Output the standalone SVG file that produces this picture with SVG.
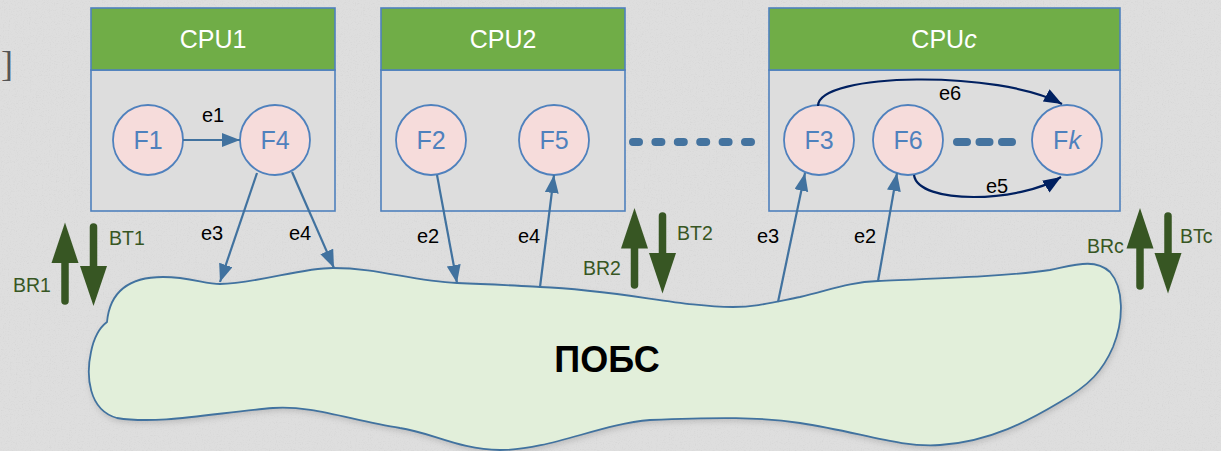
<svg xmlns="http://www.w3.org/2000/svg" width="1221" height="451" viewBox="0 0 1221 451">
  <style>
    .box-body { fill: #dddddd; stroke: #4f81bd; stroke-width: 1.6; }
    .box-head { fill: #70ad47; stroke: #4f81bd; stroke-width: 1.6; }
    .head-text { font-family: "Liberation Sans", Arial, sans-serif; font-size: 25px; fill: #ffffff; text-anchor: middle; }
    .fn { fill: #f6dcdb; stroke: #4f81bd; stroke-width: 1.8; }
    .fn-text { font-family: "Liberation Sans", Arial, sans-serif; font-size: 25px; fill: #4f81bd; text-anchor: middle; }
    .edge { fill: none; stroke: #41729f; stroke-width: 2.2; marker-end: url(#tip); }
    .loop { fill: none; stroke: #002060; stroke-width: 2.2; marker-end: url(#tip-navy); }
    .elabel { font-family: "Liberation Sans", Arial, sans-serif; font-size: 20px; fill: #000000; text-anchor: middle; }
    .blabel { font-family: "Liberation Sans", Arial, sans-serif; font-size: 19.5px; fill: #375623; }
    .bus { fill: #375623; }
    .bus-shaft { stroke: #375623; stroke-width: 7.5; stroke-linecap: round; fill: none; }
    .dots { fill: none; stroke: #44739f; stroke-width: 8; stroke-linecap: round; }
  </style>
  <defs>
    <filter id="grain" x="0" y="0" width="100%" height="100%">
      <feTurbulence type="fractalNoise" baseFrequency="0.85" numOctaves="2" seed="3" result="n"/>
      <feColorMatrix type="matrix" values="0 0 0 0 0.55  0 0 0 0 0.55  0 0 0 0 0.55  0.5 0.5 0 0 -0.5" />
    </filter>
    <filter id="soft" x="-10%" y="-10%" width="120%" height="130%">
      <feGaussianBlur stdDeviation="3"/>
    </filter>
    <marker id="tip" markerUnits="userSpaceOnUse" markerWidth="20" markerHeight="16" refX="18" refY="7" orient="auto">
      <path d="M0,0 L18,7 L0,14 Z" fill="#41729f"/>
    </marker>
    <marker id="tip-navy" markerUnits="userSpaceOnUse" markerWidth="20" markerHeight="16" refX="18" refY="7" orient="auto">
      <path d="M0,0 L18,7 L0,14 Z" fill="#002060"/>
    </marker>
  </defs>

  <!-- paper background -->
  <rect x="0" y="0" width="1221" height="451" fill="#dedede"/>
  <rect x="0" y="0" width="1221" height="451" filter="url(#grain)"/>

  <!-- bracket glyph at the left margin -->
  <text x="1" y="76" font-family="'Liberation Serif', serif" font-size="36" fill="#555555">]</text>

  <!-- shared network cloud -->
  <g id="network">
    <path d="M107,322 C110,290 130,277 163,277 C190,277 205,284 220,284 C260,283 300,268 333,268 C380,268 410,281 457,283 C490,284 520,286 540,287 C620,290 680,307 733,307 C755,307 770,303 800,297 C830,290 850,282 878,281 C950,278 1010,276 1050,270 C1075,265 1095,258 1110,272 C1124,288 1124,320 1113,347 C1103,370 1090,385 1060,402 C1030,420 990,442 940,445 C900,448 860,432 800,423 C760,417 720,417 650,420 C600,424 550,450 500,450 C460,450 430,432 400,428 C350,420 310,405 273,408 C220,412 160,425 117,418 C88,410 86,375 91,352 C94,337 99,328 107,322 Z" fill="#7a7a7a" opacity="0.35" filter="url(#soft)" transform="translate(1,3)"/>
    <path d="M107,322 C110,290 130,277 163,277 C190,277 205,284 220,284 C260,283 300,268 333,268 C380,268 410,281 457,283 C490,284 520,286 540,287 C620,290 680,307 733,307 C755,307 770,303 800,297 C830,290 850,282 878,281 C950,278 1010,276 1050,270 C1075,265 1095,258 1110,272 C1124,288 1124,320 1113,347 C1103,370 1090,385 1060,402 C1030,420 990,442 940,445 C900,448 860,432 800,423 C760,417 720,417 650,420 C600,424 550,450 500,450 C460,450 430,432 400,428 C350,420 310,405 273,408 C220,412 160,425 117,418 C88,410 86,375 91,352 C94,337 99,328 107,322 Z" fill="#e2efda" stroke="#41729f" stroke-width="1.8"/>
    <text x="607" y="372" font-family="'Liberation Sans', Arial, sans-serif" font-size="36" font-weight="bold" fill="#000000" text-anchor="middle">ПОБС</text>
  </g>

  <!-- processor 1 -->
  <g id="cpu1">
    <rect class="box-body" x="91" y="70" width="244" height="141"/>
    <rect class="box-head" x="91" y="8" width="244" height="62"/>
    <text class="head-text" x="213" y="48">CPU1</text>
  </g>
  <!-- processor 2 -->
  <g id="cpu2">
    <rect class="box-body" x="381" y="70" width="244" height="141"/>
    <rect class="box-head" x="381" y="8" width="244" height="62"/>
    <text class="head-text" x="503" y="48">CPU2</text>
  </g>
  <!-- processor c -->
  <g id="cpuc">
    <rect class="box-body" x="769" y="70" width="351" height="141"/>
    <rect class="box-head" x="769" y="8" width="351" height="62"/>
    <text class="head-text" x="944" y="48">CPU<tspan font-style="italic">c</tspan></text>
  </g>

  <!-- functions -->
  <g id="f1"><circle class="fn" cx="148" cy="140" r="35"/><text class="fn-text" x="148" y="149">F1</text></g>
  <g id="f4"><circle class="fn" cx="275" cy="140" r="35"/><text class="fn-text" x="275" y="149">F4</text></g>
  <g id="f2"><circle class="fn" cx="431" cy="140" r="35"/><text class="fn-text" x="431" y="149">F2</text></g>
  <g id="f5"><circle class="fn" cx="554" cy="140" r="35"/><text class="fn-text" x="554" y="149">F5</text></g>
  <g id="f3"><circle class="fn" cx="819" cy="140" r="35"/><text class="fn-text" x="819" y="149">F3</text></g>
  <g id="f6"><circle class="fn" cx="908" cy="140" r="35"/><text class="fn-text" x="908" y="149">F6</text></g>
  <g id="fk"><circle class="fn" cx="1067" cy="140" r="35"/><text class="fn-text" x="1067" y="149">F<tspan font-style="italic">k</tspan></text></g>

  <!-- ellipsis between processors and between functions -->
  <g id="ellipsis">
    <path class="dots" d="M633,142 L753,142" stroke-dasharray="6 16.4"/>
    <path class="dots" d="M957,142 L1013,142" stroke-dasharray="10 12.5"/>
  </g>

  <!-- bus arrows -->
  <g id="bus-1">
    <line class="bus-shaft" x1="65" y1="258" x2="65" y2="301"/>
    <polygon class="bus" points="51.5,263 65,222.5 78.5,263"/>
    <line class="bus-shaft" x1="93.5" y1="227" x2="93.5" y2="270"/>
    <polygon class="bus" points="80,266 107,266 93.5,306"/>
    <text class="blabel" x="109" y="245">BT1</text>
    <text class="blabel" x="13" y="292">BR1</text>
  </g>
  <g id="bus-2">
    <line class="bus-shaft" x1="634.5" y1="244" x2="634.5" y2="285"/>
    <polygon class="bus" points="621,248.5 634.5,208 648,248.5"/>
    <line class="bus-shaft" x1="662.5" y1="216" x2="662.5" y2="257"/>
    <polygon class="bus" points="649,253 676,253 662.5,293.5"/>
    <text class="blabel" x="677" y="240">BT2</text>
    <text class="blabel" x="583" y="275">BR2</text>
  </g>
  <g id="bus-c">
    <line class="bus-shaft" x1="1140" y1="244" x2="1140" y2="286"/>
    <polygon class="bus" points="1126.5,248.5 1140,208 1153.5,248.5"/>
    <line class="bus-shaft" x1="1168" y1="216" x2="1168" y2="257"/>
    <polygon class="bus" points="1154.5,253 1181.5,253 1168,293.5"/>
    <text class="blabel" x="1180" y="243">BTc</text>
    <text class="blabel" x="1087" y="253">BRc</text>
  </g>

  <!-- connectors -->
  <g id="connectors">
    <path class="edge" d="M183,140 L240,140"/>
    <path class="edge" d="M257,173 L220,282"/>
    <path class="edge" d="M292,172 L334,268"/>
    <path class="edge" d="M437,175 L457,283"/>
    <path class="edge" d="M540,287 L554,175"/>
    <path class="edge" d="M778,302 L805,173"/>
    <path class="edge" d="M878,281 L897,173"/>
    <path class="loop" d="M818,106 C818,72 1000,70 1062,104"/>
    <path class="loop" d="M914,175 C918,205 1020,203 1061,177"/>
    <text class="elabel" x="213" y="122">e1</text>
    <text class="elabel" x="212" y="240">e3</text>
    <text class="elabel" x="300" y="240">e4</text>
    <text class="elabel" x="428" y="243">e2</text>
    <text class="elabel" x="529" y="243">e4</text>
    <text class="elabel" x="768" y="243">e3</text>
    <text class="elabel" x="865" y="243">e2</text>
    <text class="elabel" x="950" y="100">e6</text>
    <text class="elabel" x="997" y="193">e5</text>
  </g>
</svg>
